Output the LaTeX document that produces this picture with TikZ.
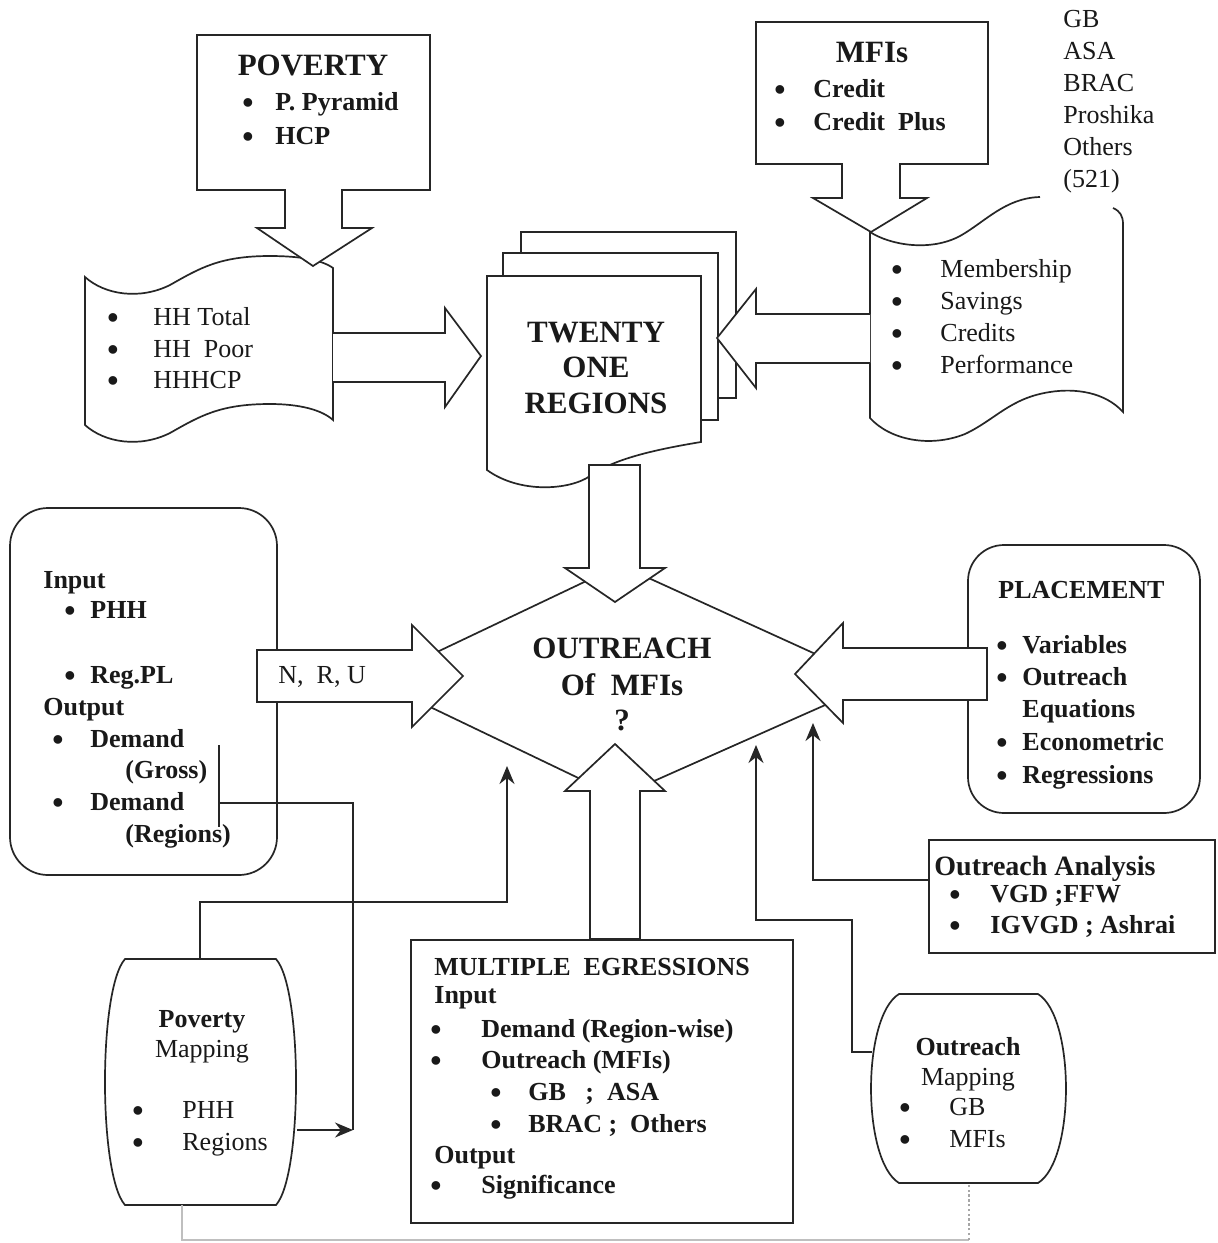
\documentclass[tikz,border=0pt]{standalone}
\usepackage{fontspec}
\setmainfont{Liberation Serif}
\usetikzlibrary{arrows.meta,fit}
\newcommand\fR{\fontsize{13}{16}\selectfont}
\newcommand\fB{\fontsize{13}{16}\selectfont\bfseries}
\newcommand\fT{\fontsize{15.5}{19}\selectfont\bfseries}
\newcommand\fH{\fontsize{14}{17}\selectfont\bfseries}
\newcommand\fD{\fontsize{16}{16}\selectfont\bfseries}
\begin{document}
\begin{tikzpicture}[x=0.5pt,y=-0.5pt,line join=miter,
  shp/.style={draw=black!85,line width=0.85pt},
  blk/.style={draw=black!85,fill=white,line width=0.85pt},
  conn/.style={draw=black!85,line width=0.85pt},
  tipa/.style={-{Stealth[length=9pt,width=7.5pt]}},
  fitbox/.style={draw=black!85,inner sep=0pt,line width=0.85pt},
  rt/.style={anchor=base west,inner sep=0pt,font=\fR,text=black!90},
  bt/.style={anchor=base west,inner sep=0pt,font=\fB,text=black!90},
  ct/.style={anchor=base,inner sep=0pt,font=\fT,text=black!90},
  cb/.style={anchor=base,inner sep=0pt,font=\fB,text=black!90},
  cr/.style={anchor=base,inner sep=0pt,font=\fR,text=black!90},
  bul/.style={anchor=base,inner sep=0pt,font=\fD,text=black!90,yshift=-1.6pt}]
\fill[white] (0,0) rectangle (1217,1243);
\useasboundingbox (0,0) rectangle (1217,1243);

% ---------- stacked pages ----------
\node[fitbox,fill=white,fit={(521,232)(736,398)}] (page3) {};
\node[fitbox,fill=white,fit={(503,253)(718,420)}] (page2) {};
\draw[shp,fill=white] (487,276) -- (701,276) -- (701,442)
  .. controls (640,452) and (610,462) .. (590,476)
  .. controls (570,490) and (520,494) .. (487,470) -- cycle;

% ---------- HH document ----------
\draw[shp] (85,277) .. controls (105,295) and (140,300) .. (170,285)
  .. controls (200,268) and (220,256) .. (270,256)
  .. controls (300,256) and (322,260) .. (333,268) -- (333,420)
  .. controls (322,410) and (300,404) .. (270,404)
  .. controls (220,404) and (200,416) .. (170,433)
  .. controls (140,448) and (105,443) .. (85,425) -- cycle;

% ---------- membership document ----------
\draw[shp] (1040,197) .. controls (1005,198) and (985,222) .. (960,236)
  .. controls (930,252) and (890,245) .. (870,232) -- (870,418)
  .. controls (890,440) and (930,448) .. (965,434)
  .. controls (995,420) and (1010,398) .. (1050,392)
  .. controls (1075,388) and (1105,392) .. (1123,412) -- (1123,224)
  .. controls (1123,216) and (1120,211) .. (1113,208);

% ---------- boxes ----------
\node[fitbox,fit={(197,35)(430,190)}] (povbox) {};
\node[fitbox,fit={(756,22)(988,164)}] (mfibox) {};
\node[fitbox,rounded corners=19pt,fit={(10,508)(277,875)}] (inbox) {};
\node[fitbox,rounded corners=18pt,fit={(968,545)(1200,813)}] (plbox) {};
\node[fitbox,fit={(929,840)(1215,953)}] (oabox) {};
\node[fitbox,fit={(411,940)(793,1223)}] (mrbox) {};

% barrels
\draw[shp] (125,959) -- (276,959) .. controls (302.7,989) and (302.7,1175) .. (276,1205)
  -- (125,1205) .. controls (98.3,1175) and (98.3,989) .. (125,959) -- cycle;
\draw[shp] (899,994) -- (1038,994) .. controls (1075.3,1017) and (1075.3,1160) .. (1038,1183)
  -- (899,1183) .. controls (861.7,1160) and (861.7,1017) .. (899,994) -- cycle;

% ---------- diamond ----------
\coordinate (dl) at (376,681);
\coordinate (dt) at (620,565);
\coordinate (dr) at (877,682);
\coordinate (db) at (618,797);
\draw[shp] (dl) -- (dt) -- (dr) -- (db) -- cycle;

% ---------- block arrows ----------
\draw[blk] (285,189) -- (285,228) -- (257,228) -- (313,266) -- (372,228) -- (342,228) -- (342,189);
\draw[blk] (842,163) -- (842,198) -- (813,198) -- (871,232) -- (927,198) -- (900,198) -- (900,163);
\draw[blk] (333,333) -- (445,333) -- (445,308) -- (481,356) -- (445,407) -- (445,382) -- (333,382);
\draw[blk] (870,314) -- (756,314) -- (756,289) -- (717,338) -- (756,388) -- (756,363) -- (870,363);
\draw[blk] (589,465) -- (589,568) -- (565,568) -- (615,602) -- (665,568) -- (640,568) -- (640,465) -- cycle;
\draw[blk] (590,939) -- (590,791) -- (565,791) -- (615,744) -- (665,791) -- (640,791) -- (640,939) -- cycle;
\draw[blk] (257,650) -- (412,650) -- (412,625) -- (463,676) -- (412,727) -- (412,702) -- (257,702) -- cycle;
\draw[blk] (987,648) -- (843,648) -- (843,623) -- (795,674) -- (843,723) -- (843,700) -- (987,700) -- cycle;

% ---------- connectors ----------
\coordinate (pmT) at (200,959);
\coordinate (pmR) at (297,1130);
\coordinate (pmB) at (182,1205);
\coordinate (omL) at (872,1052);
\coordinate (omB) at (969,1183);
\coordinate (j1) at (507,902);
\coordinate (t1) at (507,766);
\coordinate (j2) at (353,1130);
\coordinate (dA) at (219,745);
\coordinate (dB) at (219,827);
\coordinate (dJ) at (219,803);
\coordinate (j3) at (852,920);
\coordinate (t3) at (756,745);
\coordinate (oaY) at (0,880);
\coordinate (t4) at (813,723);
\coordinate (g2) at (969,1240);

\draw[conn,tipa] (pmT) |- (j1) -- (t1);
\draw[conn] (dA) -- (dB);
\draw[conn] (dJ) -| (j2);
\draw[conn,tipa] (pmR) -- (j2);
\draw[conn,tipa] (omL) -| (j3) -| (t3);
\draw[conn,tipa] (oabox.west |- oaY) -| (t4);
\draw[black!25,line width=0.7pt] (pmB) |- (g2);
\draw[black!35,line width=0.7pt,dash pattern=on 1.2pt off 1.2pt] (g2) -- (omB);

% ---------- texts ----------
\node[ct] (povt) at (313,75) {POVERTY};
\node[bul] (povb1) at (248,110) {•};
\node[bt] (pov1) at (275,110) {P. Pyramid};
\node[bul] (povb2) at (248,144) {•};
\node[bt] (pov2) at (275,144) {HCP};

\node[bul] (hhb1) at (113,325) {•};
\node[rt] (hh1) at (153,325) {HH Total};
\node[bul] (hhb2) at (113,357) {•};
\node[rt] (hh2) at (153,357) {HH\ \ Poor};
\node[bul] (hhb3) at (113,388) {•};
\node[rt] (hh3) at (153,388) {HHHCP};

\node[ct] (tw1) at (596,342) {TWENTY};
\node[ct] (tw2) at (596,377) {ONE};
\node[ct] (tw3) at (596,413) {REGIONS};

\node[ct] (mfit) at (872,62) {MFIs};
\node[bul] (mfib1) at (780,97) {•};
\node[bt] (mfi1) at (813,97) {Credit};
\node[bul] (mfib2) at (780,130) {•};
\node[bt] (mfi2) at (813,130) {Credit\ \ Plus};

\node[rt] (gb1) at (1063,27) {GB};
\node[rt] (gb2) at (1063,59) {ASA};
\node[rt] (gb3) at (1063,91) {BRAC};
\node[rt] (gb4) at (1063,123) {Proshika};
\node[rt] (gb5) at (1063,155) {Others};
\node[rt] (gb6) at (1063,187) {(521)};

\node[bul] (mbb1) at (897,277) {•};
\node[rt] (mb1) at (940,277) {Membership};
\node[bul] (mbb2) at (897,309) {•};
\node[rt] (mb2) at (940,309) {Savings};
\node[bul] (mbb3) at (897,341) {•};
\node[rt] (mb3) at (940,341) {Credits};
\node[bul] (mbb4) at (897,373) {•};
\node[rt] (mb4) at (940,373) {Performance};

\node[bt] (in1) at (43,588) {Input};
\node[bul] (inb2) at (70,618) {•};
\node[bt] (in2) at (90,618) {PHH};
\node[bul] (inb3) at (70,683) {•};
\node[bt] (in3) at (90,683) {Reg.PL};
\node[bt] (in4) at (43,715) {Output};
\node[bul] (inb5) at (58,747) {•};
\node[bt] (in5) at (90,747) {Demand};
\node[bt] (in6) at (125,778) {(Gross)};
\node[bul] (inb7) at (58,810) {•};
\node[bt] (in7) at (90,810) {Demand};
\node[bt] (in8) at (125,842) {(Regions)};

\node[rt] (nru) at (278,683) {N,\ \ R, U};

\node[ct] (oc1) at (622,658) {OUTREACH};
\node[ct] (oc2) at (622,695) {Of\ \ MFIs};
\node[ct] (oc3) at (622,730) {?};

\node[bt] (pl0) at (998,598) {PLACEMENT};
\node[bul] (plb1) at (1002,653) {•};
\node[bt] (pl1) at (1022,653) {Variables};
\node[bul] (plb2) at (1002,685) {•};
\node[bt] (pl2) at (1022,685) {Outreach};
\node[bt] (pl3) at (1022,717) {Equations};
\node[bul] (plb4) at (1002,750) {•};
\node[bt] (pl4) at (1022,750) {Econometric};
\node[bul] (plb5) at (1002,783) {•};
\node[bt] (pl5) at (1022,783) {Regressions};

\node[bt,font=\fH] (oa0) at (934,875) {Outreach Analysis};
\node[bul] (oab1) at (955,902) {•};
\node[bt] (oa1) at (990,902) {VGD ;FFW};
\node[bul] (oab2) at (955,933) {•};
\node[bt] (oa2) at (990,933) {IGVGD ; Ashrai};

\node[bt] (mr0) at (434,975) {MULTIPLE\ \ EGRESSIONS};
\node[bt] (mr1) at (434,1003) {Input};
\node[bul] (mrb2) at (436,1037) {•};
\node[bt] (mr2) at (481,1037) {Demand (Region-wise)};
\node[bul] (mrb3) at (436,1068) {•};
\node[bt] (mr3) at (481,1068) {Outreach (MFIs)};
\node[bul] (mrb4) at (496,1100) {•};
\node[bt] (mr4) at (528,1100) {GB\ \ \ ;\ \ ASA};
\node[bul] (mrb5) at (496,1132) {•};
\node[bt] (mr5) at (528,1132) {BRAC ;\ \ Others};
\node[bt] (mr6) at (434,1163) {Output};
\node[bul] (mrb7) at (436,1193) {•};
\node[bt] (mr7) at (481,1193) {Significance};

\node[cb] (pm1) at (202,1027) {Poverty};
\node[cr] (pm2) at (202,1057) {Mapping};
\node[bul] (pmb3) at (138,1118) {•};
\node[rt] (pm3) at (182,1118) {PHH};
\node[bul] (pmb4) at (138,1150) {•};
\node[rt] (pm4) at (182,1150) {Regions};

\node[cb] (om1) at (968,1055) {Outreach};
\node[cr] (om2) at (968,1085) {Mapping};
\node[bul] (omb3) at (905,1115) {•};
\node[rt] (om3) at (949,1115) {GB};
\node[bul] (omb4) at (905,1147) {•};
\node[rt] (om4) at (949,1147) {MFIs};
\end{tikzpicture}
\end{document}
